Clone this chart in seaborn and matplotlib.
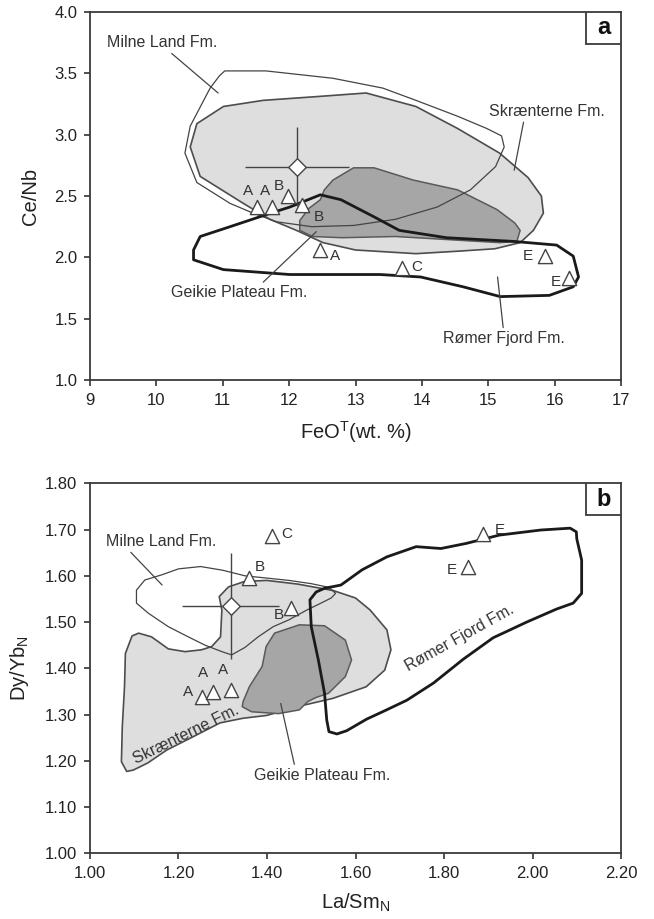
import seaborn as sns
import matplotlib.pyplot as plt
from matplotlib.patches import Rectangle
import numpy as np

# ---------------- panel a : Ce/Nb vs FeOT ----------------
milne_a_x = [11.03, 11.65, 12.66, 13.41, 13.91, 14.54, 14.98, 15.20, 15.24, 15.11, 14.73, 14.23,
             13.60, 12.97, 12.34, 11.81, 11.46, 11.11, 10.61, 10.43, 10.51, 10.81, 10.95]
milne_a_y = [3.52, 3.52, 3.46, 3.38, 3.28, 3.15, 3.05, 2.99, 2.90, 2.74, 2.55, 2.41,
             2.31, 2.26, 2.25, 2.29, 2.36, 2.44, 2.61, 2.85, 3.07, 3.38, 3.48]

skr_a_x = [10.51, 10.61, 11.01, 11.61, 12.40, 13.16, 13.91, 14.54, 15.17, 15.60, 15.80, 15.83,
           15.68, 15.48, 15.10, 14.54, 13.91, 13.00, 12.51, 12.11, 11.71, 11.31, 10.66]
skr_a_y = [2.90, 3.09, 3.23, 3.28, 3.31, 3.34, 3.23, 3.05, 2.85, 2.65, 2.50, 2.36,
           2.22, 2.12, 2.07, 2.05, 2.03, 2.06, 2.12, 2.22, 2.31, 2.44, 2.66]

geik_a_x = [12.47, 12.53, 12.66, 12.97, 13.28, 13.87, 14.54, 15.13, 15.40, 15.48, 15.43, 15.17,
            14.54, 13.60, 12.80, 12.35, 12.16, 12.16, 12.30]
geik_a_y = [2.47, 2.55, 2.63, 2.73, 2.73, 2.63, 2.55, 2.39, 2.28, 2.22, 2.13, 2.12,
            2.14, 2.17, 2.16, 2.17, 2.22, 2.30, 2.40]

romer_a_x = [10.56, 10.66, 11.11, 11.72, 12.01, 12.47, 12.78, 13.28, 13.66, 14.37, 15.38, 16.03,
             16.28, 16.36, 16.28, 15.92, 15.18, 14.62, 13.98, 13.37, 12.01, 11.01, 10.56]
romer_a_y = [2.06, 2.17, 2.25, 2.36, 2.41, 2.51, 2.47, 2.33, 2.22, 2.16, 2.13, 2.10,
             2.01, 1.84, 1.76, 1.69, 1.68, 1.76, 1.84, 1.86, 1.86, 1.90, 1.98]

samples_a_x = [11.51, 11.74, 11.99, 12.19, 12.47, 13.70, 15.85, 16.21]
samples_a_y = [2.41, 2.41, 2.50, 2.43, 2.06, 1.91, 2.01, 1.83]
samples_a_lab = ['A', 'A', 'B', 'B', 'A', 'C', 'E', 'E']

mean_a = (12.12, 2.74)
err_a = (0.78, 0.32)

# ---------------- panel b : Dy/YbN vs La/SmN ----------------
milne_b_x = [1.105, 1.124, 1.162, 1.200, 1.250, 1.300, 1.350, 1.400, 1.450, 1.500, 1.540, 1.555,
             1.545, 1.520, 1.490, 1.450, 1.414, 1.380, 1.350, 1.320, 1.298, 1.260, 1.222, 1.177,
             1.132, 1.105]
milne_b_y = [1.569, 1.591, 1.602, 1.615, 1.620, 1.612, 1.600, 1.595, 1.590, 1.583, 1.575, 1.562,
             1.552, 1.540, 1.526, 1.505, 1.490, 1.468, 1.445, 1.429, 1.436, 1.450, 1.468, 1.490,
             1.519, 1.541]

skr_b_x = [1.095, 1.110, 1.139, 1.177, 1.215, 1.252, 1.275, 1.295, 1.298, 1.292, 1.313, 1.350,
           1.400, 1.470, 1.550, 1.600, 1.633, 1.671, 1.680, 1.666, 1.624, 1.549, 1.473, 1.399,
           1.346, 1.294, 1.233, 1.173, 1.130, 1.098, 1.083, 1.071, 1.073, 1.078, 1.080]
skr_b_y = [1.470, 1.476, 1.468, 1.442, 1.436, 1.440, 1.447, 1.468, 1.526, 1.555, 1.576, 1.588,
           1.590, 1.582, 1.568, 1.552, 1.526, 1.483, 1.440, 1.396, 1.360, 1.335, 1.318, 1.298,
           1.292, 1.282, 1.252, 1.223, 1.195, 1.180, 1.177, 1.198, 1.274, 1.360, 1.432]

geik_b_x = [1.346, 1.360, 1.389, 1.398, 1.417, 1.473, 1.530, 1.577, 1.591, 1.577, 1.539, 1.511,
            1.492, 1.473, 1.426, 1.365, 1.344]
geik_b_y = [1.328, 1.360, 1.404, 1.447, 1.476, 1.494, 1.492, 1.461, 1.418, 1.382, 1.346, 1.337,
            1.328, 1.310, 1.302, 1.306, 1.317]

romer_b_x = [1.530, 1.511, 1.497, 1.500, 1.516, 1.530, 1.535, 1.540, 1.558, 1.580, 1.625, 1.670,
             1.716, 1.776, 1.844, 1.911, 1.987, 2.054, 2.092, 2.111, 2.111, 2.100, 2.099, 2.085,
             2.019, 1.925, 1.850, 1.793, 1.737, 1.671, 1.615, 1.567]
romer_b_y = [1.573, 1.565, 1.548, 1.490, 1.418, 1.346, 1.288, 1.263, 1.258, 1.265, 1.290, 1.310,
             1.331, 1.368, 1.420, 1.466, 1.500, 1.528, 1.541, 1.562, 1.634, 1.680, 1.695, 1.703,
             1.699, 1.688, 1.670, 1.659, 1.663, 1.641, 1.613, 1.580]

samples_b_x = [1.254, 1.278, 1.318, 1.360, 1.455, 1.412, 1.888, 1.855]
samples_b_y = [1.337, 1.348, 1.352, 1.595, 1.531, 1.686, 1.690, 1.620]
samples_b_lab = ['A', 'A', 'A', 'B', 'B', 'C', 'E', 'E']

mean_b = (1.318, 1.535)
err_b = (0.11, 0.115)

# ---------------- style ----------------
sns.set_theme(style="ticks")
plt.rcParams['font.family'] = ['Liberation Sans', 'DejaVu Sans']
plt.rcParams['mathtext.fontset'] = 'custom'
plt.rcParams['mathtext.rm'] = 'Liberation Sans'
plt.rcParams['mathtext.it'] = 'Liberation Sans:italic'

INK = '#333333'
LIGHT = '#dedede'
DARK = '#a6a6a6'

fig = plt.figure(figsize=(6.54, 9.19), dpi=100)
ax_a = fig.add_axes([0.1376, 0.5865, 0.812, 0.4004])
ax_b = fig.add_axes([0.1376, 0.0715, 0.812, 0.4026])


def draw_fields(ax, skr, geik, milne, romer):
    ax.fill(*skr, facecolor=LIGHT, edgecolor='#4d4d4d', lw=1.2, zorder=1, joinstyle='round')
    ax.fill(*geik, facecolor=DARK, edgecolor='#5a5a5a', lw=1.1, zorder=2, joinstyle='round')
    ax.fill(*milne, facecolor='none', edgecolor='#444444', lw=0.9, zorder=3, joinstyle='round')
    ax.fill(*romer, facecolor='none', edgecolor='#1a1a1a', lw=2.0, zorder=4, joinstyle='round')


def draw_samples(ax, xs, ys, labs, offsets, mean, err):
    ax.errorbar(mean[0], mean[1], xerr=err[0], yerr=err[1], fmt='none',
                ecolor='#444444', elinewidth=1.0, capsize=0, zorder=5)
    sns.scatterplot(x=[mean[0]], y=[mean[1]], marker='D', s=80, color='white',
                    edgecolor='#444444', linewidth=1.0, ax=ax, zorder=6, legend=False)
    sns.scatterplot(x=xs, y=ys, marker='^', s=105, color='white',
                    edgecolor='#444444', linewidth=1.0, ax=ax, zorder=7, legend=False)
    for x, y, lab, off in zip(xs, ys, labs, offsets):
        ax.annotate(lab, (x, y), xytext=off, textcoords='offset points',
                    ha='center', va='center', fontsize=11, color=INK, zorder=8)


def field_label(ax, text, xy, xytext, rel, **kw):
    ax.annotate(text, xy=xy, xytext=xytext, ha='center', va='center', fontsize=11.5,
                color=INK, zorder=8,
                arrowprops=dict(arrowstyle='-', color='#444444', lw=0.9, relpos=rel,
                                shrinkA=0, shrinkB=0), **kw)


def style_axes(ax, xlim, ylim, xticks, yticks, xfmt, yfmt, xlabel, ylabel, tag):
    ax.set_xlim(*xlim)
    ax.set_ylim(*ylim)
    ax.set_xticks(xticks)
    ax.set_yticks(yticks)
    ax.set_xticklabels([xfmt % v for v in xticks])
    ax.set_yticklabels([yfmt % v for v in yticks])
    ax.tick_params(direction='out', length=4, width=1.2, labelsize=12, pad=5,
                   colors=INK, labelcolor='#222222')
    for s in ax.spines.values():
        s.set_visible(True)
        s.set_linewidth(1.3)
        s.set_color('#3a3a3a')
    ax.set_xlabel(xlabel, fontsize=14.5, color='#222222', labelpad=8)
    ax.set_ylabel(ylabel, fontsize=14.5, color='#222222', labelpad=10)
    ax.add_patch(Rectangle((0.934, 0.913), 0.066, 0.087, transform=ax.transAxes,
                           facecolor='white', edgecolor='#3a3a3a', lw=1.3, zorder=9))
    ax.text(0.967, 0.957, tag, transform=ax.transAxes, ha='center', va='center',
            fontsize=17, fontweight='bold', color='#111111', zorder=10)


# ---- panel a ----
draw_fields(ax_a, (skr_a_x, skr_a_y), (geik_a_x, geik_a_y),
            (milne_a_x, milne_a_y), (romer_a_x, romer_a_y))
offs_a = [(-6, 11.5), (-5, 11.5), (-7, 7), (12, -9), (10.5, -4.5), (10.5, 1), (-12, 0), (-9.5, -2.5)]
draw_samples(ax_a, samples_a_x, samples_a_y, samples_a_lab, offs_a, mean_a, err_a)
field_label(ax_a, 'Milne Land Fm.', (10.93, 3.34), (10.09, 3.75), (0.55, 0))
field_label(ax_a, 'Skrænterne Fm.', (15.39, 2.71), (15.89, 3.19), (0.3, 0))
field_label(ax_a, 'Geikie Plateau Fm.', (12.41, 2.21), (11.25, 1.71), (0.65, 1))
field_label(ax_a, 'Rømer Fjord Fm.', (15.14, 1.84), (15.23, 1.34), (0.5, 1))
style_axes(ax_a, (9, 17), (1.0, 4.0), np.arange(9, 18, 1), np.arange(1.0, 4.01, 0.5),
           '%d', '%.1f', r'FeO$^{\mathrm{T}}$(wt. %)', 'Ce/Nb', 'a')

# ---- panel b ----
draw_fields(ax_b, (skr_b_x, skr_b_y), (geik_b_x, geik_b_y),
            (milne_b_x, milne_b_y), (romer_b_x, romer_b_y))
offs_b = [(-10, 4), (-7, 13.6), (-5.4, 14.6), (7.6, 8.3), (-9.2, -5.3), (10.5, 1.3), (11.8, 3), (-12, -2.3)]
draw_samples(ax_b, samples_b_x, samples_b_y, samples_b_lab, offs_b, mean_b, err_b)
field_label(ax_b, 'Milne Land Fm.', (1.163, 1.580), (1.160, 1.674), (0.2, 0))
field_label(ax_b, 'Geikie Plateau Fm.', (1.431, 1.324), (1.525, 1.169), (0.3, 1))
ax_b.text(1.218, 1.256, 'Skrænterne Fm.', rotation=26, ha='center', va='center',
          fontsize=11.5, color=INK, zorder=8, rotation_mode='anchor')
ax_b.text(1.836, 1.466, 'Rømer Fjord Fm.', rotation=29, ha='center', va='center',
          fontsize=11.5, color=INK, zorder=8, rotation_mode='anchor')
style_axes(ax_b, (1.0, 2.2), (1.0, 1.8), np.arange(1.0, 2.21, 0.2), np.arange(1.0, 1.81, 0.1),
           '%.2f', '%.2f', r'La/Sm$_{\mathrm{N}}$', r'Dy/Yb$_{\mathrm{N}}$', 'b')

fig.savefig('out.png', dpi=100, facecolor='white')
